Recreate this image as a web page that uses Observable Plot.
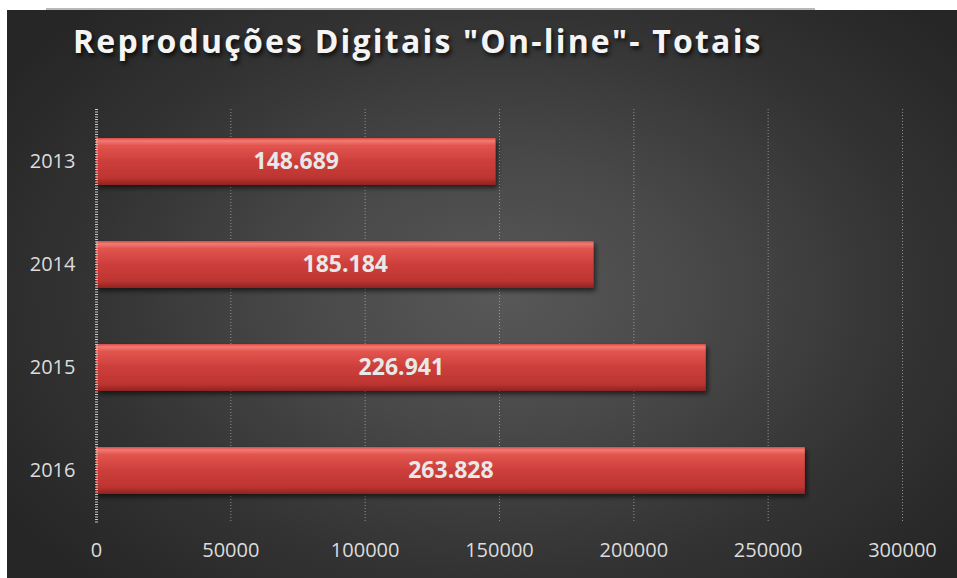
<!DOCTYPE html>
<html>
<head>
<meta charset="utf-8">
<script src="https://cdn.jsdelivr.net/npm/d3@7"></script>
<script src="https://cdn.jsdelivr.net/npm/@observablehq/plot@0.6"></script>
<style>
  html, body { margin: 0; padding: 0; background: #ffffff; }
  #wrap { position: relative; width: 957px; height: 578px; overflow: hidden; }
  #panel { position: absolute; left: 7px; top: 10px; width: 950px; height: 568px;
    background: radial-gradient(ellipse 62% 70% at 52% 50%, #585858 0%, #484848 35%, #333333 70%, #262626 100%); }
  #topline { position: absolute; left: 46px; top: 8px; width: 769px; height: 2px; background: #b8b8b8; }
  #title { position: absolute; left: 73px; top: 19px; font-family: "Open Sans", sans-serif;
    font-weight: bold; font-size: 32px; line-height: 44px; letter-spacing: 2.2px; color: #f4f4f4;
    text-shadow: 2px 3px 4px rgba(0,0,0,0.75); white-space: nowrap; }
  #chart { position: absolute; left: 0; top: 0; }
</style>
</head>
<body>
<div id="wrap">
  <div id="panel"></div>
  <div id="topline"></div>
  <div id="title">Reproduções Digitais "On-line"- Totais</div>
  <div id="chart"></div>
</div>
<script>
const years = ["2013", "2014", "2015", "2016"];
const values = [148689, 185184, 226941, 263828];
const xTicks = [0, 50000, 100000, 150000, 200000, 250000, 300000];

const data = years.map((y, i) => ({year: y, value: values[i]}));
const ptFormat = d3.formatLocale({decimal: ",", thousands: ".", grouping: [3], currency: ["", ""]}).format(",d");

const chart = Plot.plot({
  width: 957,
  height: 578,
  marginLeft: 96,
  marginRight: 55,
  marginTop: 109,
  marginBottom: 55,
  style: {background: "transparent", fontFamily: "'Open Sans', sans-serif", color: "#dcdcdc"},
  x: {domain: [0, 300000], ticks: xTicks, tickFormat: d3.format("d"), label: null},
  y: {domain: years, paddingInner: 0.54, paddingOuter: 0.27, label: null},
  marks: [
    Plot.ruleX(xTicks.filter(d => d > 0), {stroke: "#a8a8a8", strokeWidth: 1, strokeDasharray: "1,2", strokeOpacity: 0.8, insetBottom: 2}),
    Plot.barX(data, {y: "year", x: "value", fill: "url(#barGrad)"}),
    Plot.ruleX([0], {stroke: "#c8c8c8", strokeWidth: 3, strokeDasharray: "1,1.5"}),
    Plot.text(data, {y: "year", x: d => d.value / 2, text: d => ptFormat(d.value), fill: "#e8e8e8", fontSize: 23, fontWeight: "bold", fontFamily: "'Open Sans', sans-serif"}),
    Plot.axisX({ticks: xTicks, tickFormat: d3.format("d"), tickSize: 0, tickPadding: 19, fontSize: 20, fill: "#dcdcdc", label: null}),
    Plot.axisY({tickSize: 0, tickPadding: 21, fontSize: 20, fill: "#dcdcdc", label: null})
  ]
});

// gradient + shadow defs
const ns = "http://www.w3.org/2000/svg";
const defs = document.createElementNS(ns, "defs");
defs.innerHTML = `
  <linearGradient id="barGrad" x1="0" y1="0" x2="0" y2="1">
    <stop offset="0" stop-color="#d84a45"/>
    <stop offset="0.06" stop-color="#f27a73"/>
    <stop offset="0.16" stop-color="#e2554f"/>
    <stop offset="0.5" stop-color="#cc3e3a"/>
    <stop offset="0.85" stop-color="#bd3532"/>
    <stop offset="1" stop-color="#8e2320"/>
  </linearGradient>
  <filter id="barShadow" x="-5%" y="-20%" width="110%" height="150%">
    <feDropShadow dx="2" dy="3" stdDeviation="2.5" flood-color="#000" flood-opacity="0.6"/>
  </filter>`;
chart.insertBefore(defs, chart.firstChild);
chart.querySelectorAll("rect").forEach(r => {
  if ((r.getAttribute("fill") || "").includes("barGrad") || (r.parentNode.getAttribute("fill") || "").includes("barGrad")) {
    r.setAttribute("filter", "url(#barShadow)");
  }
});
document.getElementById("chart").appendChild(chart);
</script>
</body>
</html>
